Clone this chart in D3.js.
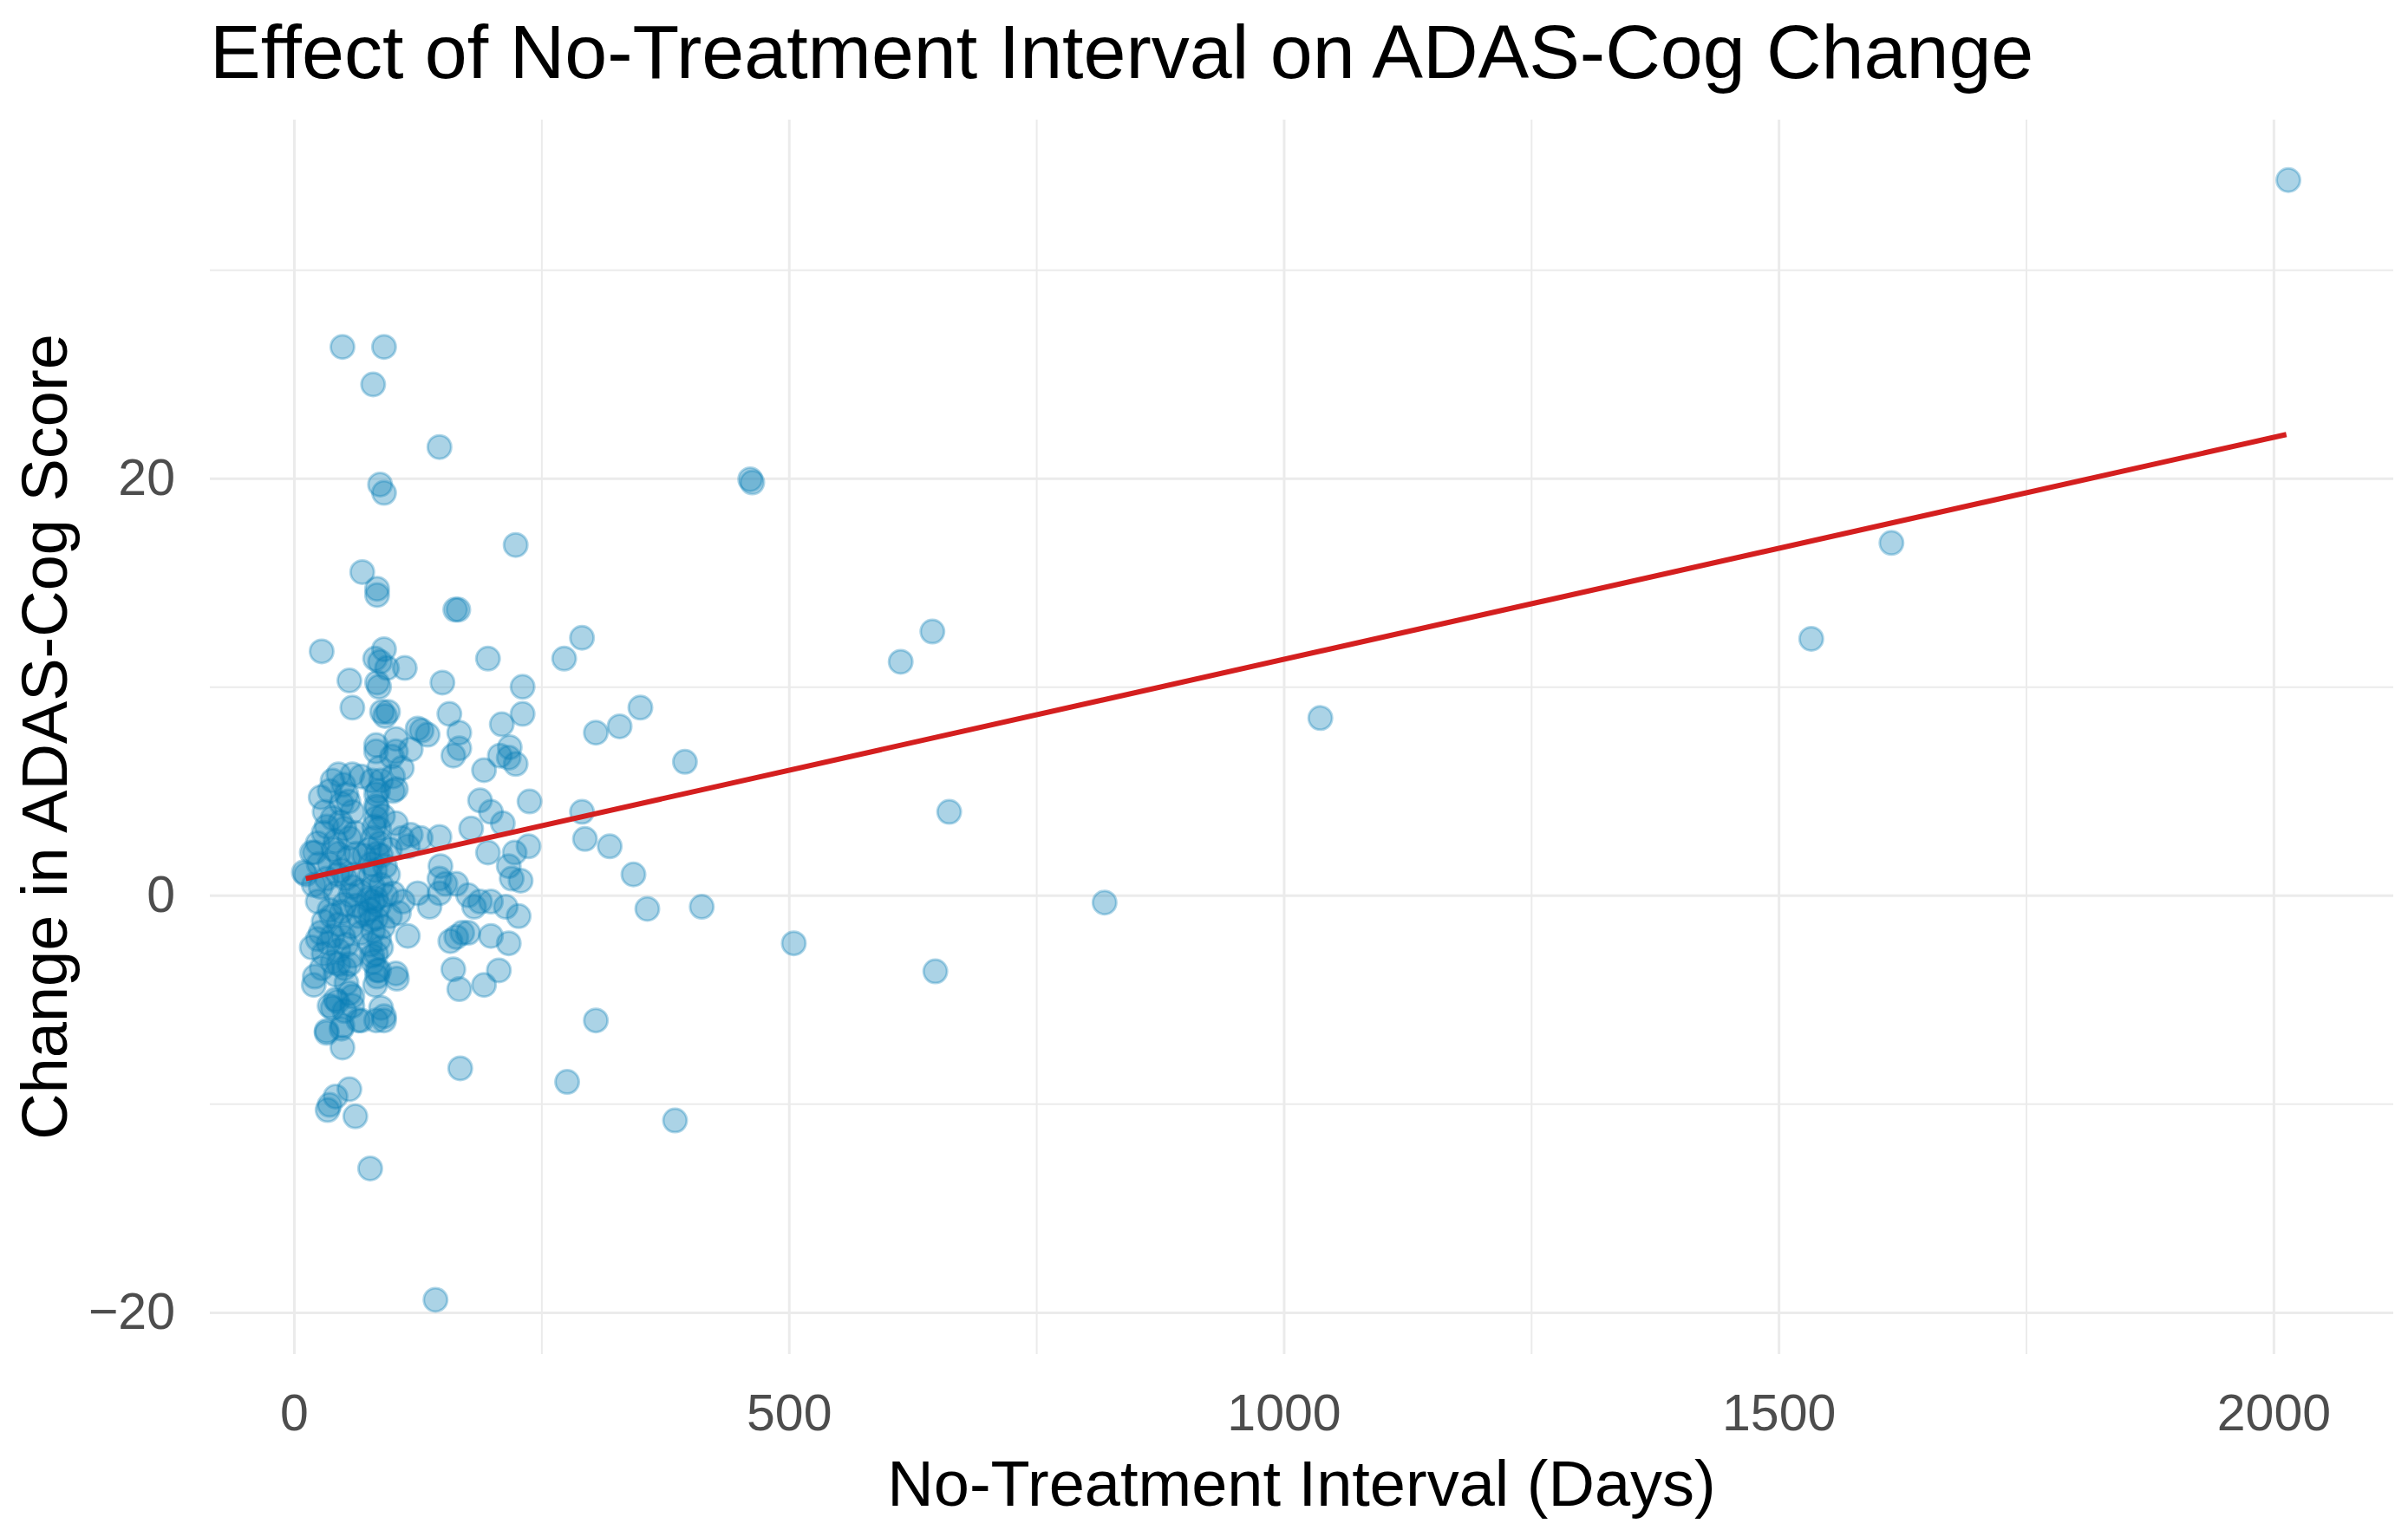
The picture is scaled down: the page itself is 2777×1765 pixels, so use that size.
<html>

<head>
  <title>Effect of No-Treatment Interval on ADAS-Cog Change</title>
  <script src="https://d3js.org/d3.v7.min.js"></script>

  <style>
    body {
      margin: 0;
      background: #ffffff;
    }

    /* light grey gridlines, no axis lines */
    .gridlines line {
      stroke: #ebebeb;
    }

    .gridlines .domain,
    .axis .domain {
      stroke: none;
    }
  </style>
</head>

<body>
  <svg id="scatter" width="2777" height="1765"></svg>

  <script>
    // values: no-treatment interval (days) and ADAS-Cog change
    const intervalDays = [
      49, 91, 80, 147, 87, 91, 224, 69, 84, 84, 163, 166, 28, 91, 82, 94, 112, 87, 196, 273,
      291, 56, 84, 86, 150, 231, 59, 89, 92, 95, 157, 231, 350, 329, 305, 210, 125, 129, 135, 167,
      167, 161, 83, 103, 118, 218, 208, 224, 217, 192, 395, 291, 294, 319, 343, 357, 412, 305, 276, 385,
      168, 104, 20, 115, 106, 137, 125, 128, 147, 179, 188, 199, 211, 238, 237, 223, 196, 217, 220, 229,
      148, 147, 153, 164, 147, 176, 188, 199, 182, 214, 227, 164, 170, 158, 176, 199, 217, 161, 167, 192,
      207, 27, 21, 12, 53, 56, 42, 36, 51, 33, 49, 49, 68, 88, 91, 83, 84, 84, 42, 36,
      34, 56, 62, 77, 143, 461, 463, 613, 645, 662, 505, 648, 819, 1037, 1533, 1614, 2015, 83,
      103, 99, 45, 59, 39, 68, 86, 109, 100, 88, 103, 83, 83, 83, 86, 80, 53, 48, 59, 39,
      33, 51, 56, 42, 24, 18, 100, 103, 109, 115, 118, 71, 88, 97, 10, 27, 42, 24, 36, 51,
      30, 45, 39, 24, 18, 30, 45, 53, 39, 59, 51, 77, 80, 83, 77, 83, 80, 86, 77, 83,
      80, 86, 59, 65, 68, 100, 21, 103, 59, 44, 39, 59, 91, 65, 33, 48, 45, 56, 36, 48,
      55, 30, 45, 60, 63, 52, 38, 27, 78, 84, 88, 75, 90, 79, 86, 82, 95, 110,
      20, 25, 33, 40, 47, 55, 62, 58, 50, 35, 28, 42, 63, 67, 31, 36, 50, 44, 57, 48,
      79, 85, 81, 87, 92, 78, 88, 82, 90, 76, 93, 80, 84, 97, 72
    ];
    const adasChange = [
      26.3, 26.3, 24.5, 21.5, 19.7, 19.3, 16.8, 15.5, 14.7, 14.4, 13.7, 13.7, 11.7, 11.8, 11.35, 10.9, 10.9, 11.2, 11.35, 11.35,
      12.35, 10.3, 10.2, 10.0, 10.2, 10.0, 9.0, 8.8, 8.6, 8.8, 8.7, 8.7, 9.0, 8.1, 7.8, 8.2, 8.0, 7.9, 7.7, 7.8,
      7.05, 6.7, 7.2, 7.5, 7.0, 7.1, 6.7, 6.3, 6.6, 6.0, 6.4, 4.0, 2.7, 2.35, 1.0, -0.65, -0.55, -6.0, -8.95, -10.8,
      -8.3, -4.0, -4.3, -1.95, -0.85, -0.55, 0.1, 2.75, 2.8, 3.2, 4.55, 4.0, 3.45, 4.5, 2.35, 2.05, 2.05, 1.4, 0.8, 0.7,
      1.4, 0.8, 0.55, 0.55, 0.1, 0.0, -0.3, -0.3, -0.55, -0.55, -1.0, -2.0, -1.8, -2.2, -1.8, -1.95, -2.3, -3.55, -4.5, -4.3,
      -3.6, 4.7, 2.05, 1.0, -4.2, -4.7, -5.0, -5.3, -5.55, -6.6, -7.3, -6.25, -6.0, -5.4, -6.0, -6.0, -3.6, -3.9, -9.65, -10.05,
      -10.3, -9.3, -10.6, -13.1, -19.4, 19.95, 19.8, 11.2, 12.65, 4.0, -2.3, -3.65, -0.35, 8.5, 12.3, 16.9, 34.3, 6.9,
      6.9, 6.65, 5.8, 5.8, 5.5, 5.7, 6.1, 6.1, 5.7, 5.5, 5.1, 4.85, 4.3, 3.7, 3.2, 2.75, 4.85, 4.4, 4.0, 3.7,
      3.3, 3.2, 2.75, 2.6, 2.5, 2.05, 5.0, 3.45, 2.75, 2.35, 2.9, 1.9, 1.9, 2.2, 1.1, 0.4, 0.1, -0.3, -0.7, -0.43,
      -1.26, -1.4, -1.95, -2.1, -2.5, -2.8, -2.65, -2.37, -3.2, -2.9, -3.5, 0.95, 0.4, -0.15, -0.7, -1.1, -1.7, -2.1, -2.37, -2.8,
      -3.2, -3.6, 0.4, -1.0, -1.8, 0.1, -3.9, -3.75, -4.85, -5.1, -5.4, -5.3, -5.8, -6.0, -6.5, -6.4, -3.3, -3.3, 1.5, 1.2,
      1.8, 3.0, 2.0, 1.0, -0.5, 0.8, -1.0, -1.8, 1.5, 2.0, 0.5, -0.2, -1.5, -2.9, -0.5, 1.2, 1.0, -0.3,
      0.5, 1.5, 0.8, 2.2, 3.5, 4.5, 3.0, -1.5, -2.0, -2.3, -3.5, -3.8, 2.0, 0.2, 4.0, 5.0, 5.3, 1.0, 0.0, -0.8,
      5.5, 5.0, 3.3, 2.5, 1.4, -1.2, -2.5, -4.3, 3.8, 2.2, 0.0, -0.3, 4.2, -1.0, -0.9
    ];

    // end points of the red fitted line
    const fitDays = [12, 2013];
    const fitChange = [0.8, 22.1];

    // tick values and grid breaks
    const xTicks = [0, 500, 1000, 1500, 2000];
    const xMinor = [250, 750, 1250, 1750];
    const yTicks = [-20, 0, 20];
    const yMinor = [-10, 10, 30];

    const svg = d3.select("svg#scatter");
    const panel = { left: 242, right: 2760, top: 138, bottom: 1562 };
    const panelWidth = panel.right - panel.left;
    const panelHeight = panel.bottom - panel.top;

    const xScale = d3.scaleLinear().domain([-85, 2121]).range([panel.left, panel.right]);
    const yScale = d3.scaleLinear().domain([-22.0, 37.2]).range([panel.bottom, panel.top]);

    //gridlines, minor first so majors sit on top
    let grid = svg.append("g").attr("id", "grid");

    grid.append("g")
      .attr("class", "x gridlines minor")
      .attr("transform", `translate(0, ${panel.bottom})`)
      .call(d3.axisBottom(xScale).tickValues(xMinor).tickSize(-panelHeight).tickFormat(""))
      .selectAll("line").attr("stroke-width", 2);

    grid.append("g")
      .attr("class", "y gridlines minor")
      .attr("transform", `translate(${panel.left}, 0)`)
      .call(d3.axisLeft(yScale).tickValues(yMinor).tickSize(-panelWidth).tickFormat(""))
      .selectAll("line").attr("stroke-width", 2);

    grid.append("g")
      .attr("class", "x gridlines")
      .attr("transform", `translate(0, ${panel.bottom})`)
      .call(d3.axisBottom(xScale).tickValues(xTicks).tickSize(-panelHeight).tickFormat(""))
      .selectAll("line").attr("stroke-width", 3);

    grid.append("g")
      .attr("class", "y gridlines")
      .attr("transform", `translate(${panel.left}, 0)`)
      .call(d3.axisLeft(yScale).tickValues(yTicks).tickSize(-panelWidth).tickFormat(""))
      .selectAll("line").attr("stroke-width", 3);

    //points
    const points = d3.zip(intervalDays, adasChange);
    svg.append("g").attr("id", "points")
      .selectAll("circle")
      .data(points)
      .join("circle")
      .attr("cx", d => xScale(d[0]))
      .attr("cy", d => yScale(d[1]))
      .attr("r", 13.5)
      .attr("fill", "#0a7fb6")
      .attr("fill-opacity", 0.34)
      .attr("stroke", "#0a7fb6")
      .attr("stroke-opacity", 0.32)
      .attr("stroke-width", 3);

    //fitted line
    const line = d3.line().x(d => xScale(d[0])).y(d => yScale(d[1]));
    svg.append("path")
      .datum(d3.zip(fitDays, fitChange))
      .attr("fill", "none")
      .attr("stroke", "#d41f1f")
      .attr("stroke-width", 6)
      .attr("d", line);

    //axes text
    const font = "'Liberation Sans', Arial, sans-serif";

    let bottomAxis = svg.append("g")
      .attr("class", "x axis")
      .attr("transform", `translate(0, ${panel.bottom})`)
      .call(d3.axisBottom(xScale).tickValues(xTicks).tickSize(0).tickPadding(46).tickFormat(d3.format("d")));
    bottomAxis.selectAll("text")
      .attr("font-family", font).attr("font-size", 59).attr("fill", "#4d4d4d");

    let leftAxis = svg.append("g")
      .attr("class", "y axis")
      .attr("transform", `translate(${panel.left}, 0)`)
      .call(d3.axisLeft(yScale).tickValues(yTicks).tickSize(0).tickPadding(40)
        .tickFormat(d => d < 0 ? "\u2212" + Math.abs(d) : d));
    leftAxis.selectAll("text")
      .attr("font-family", font).attr("font-size", 59).attr("fill", "#4d4d4d");

    //titles
    svg.append("text")
      .attr("x", panel.left)
      .attr("y", 90)
      .attr("font-family", font)
      .attr("font-size", 88)
      .attr("fill", "#000")
      .text("Effect of No-Treatment Interval on ADAS-Cog Change");

    svg.append("text")
      .attr("x", (panel.left + panel.right) / 2)
      .attr("y", 1737)
      .attr("text-anchor", "middle")
      .attr("font-family", font)
      .attr("font-size", 74)
      .attr("fill", "#000")
      .text("No-Treatment Interval (Days)");

    svg.append("text")
      .attr("transform", `translate(77, ${(panel.top + panel.bottom) / 2}) rotate(-90)`)
      .attr("text-anchor", "middle")
      .attr("font-family", font)
      .attr("font-size", 74)
      .attr("fill", "#000")
      .text("Change in ADAS-Cog Score");
  </script>
</body>

</html>
